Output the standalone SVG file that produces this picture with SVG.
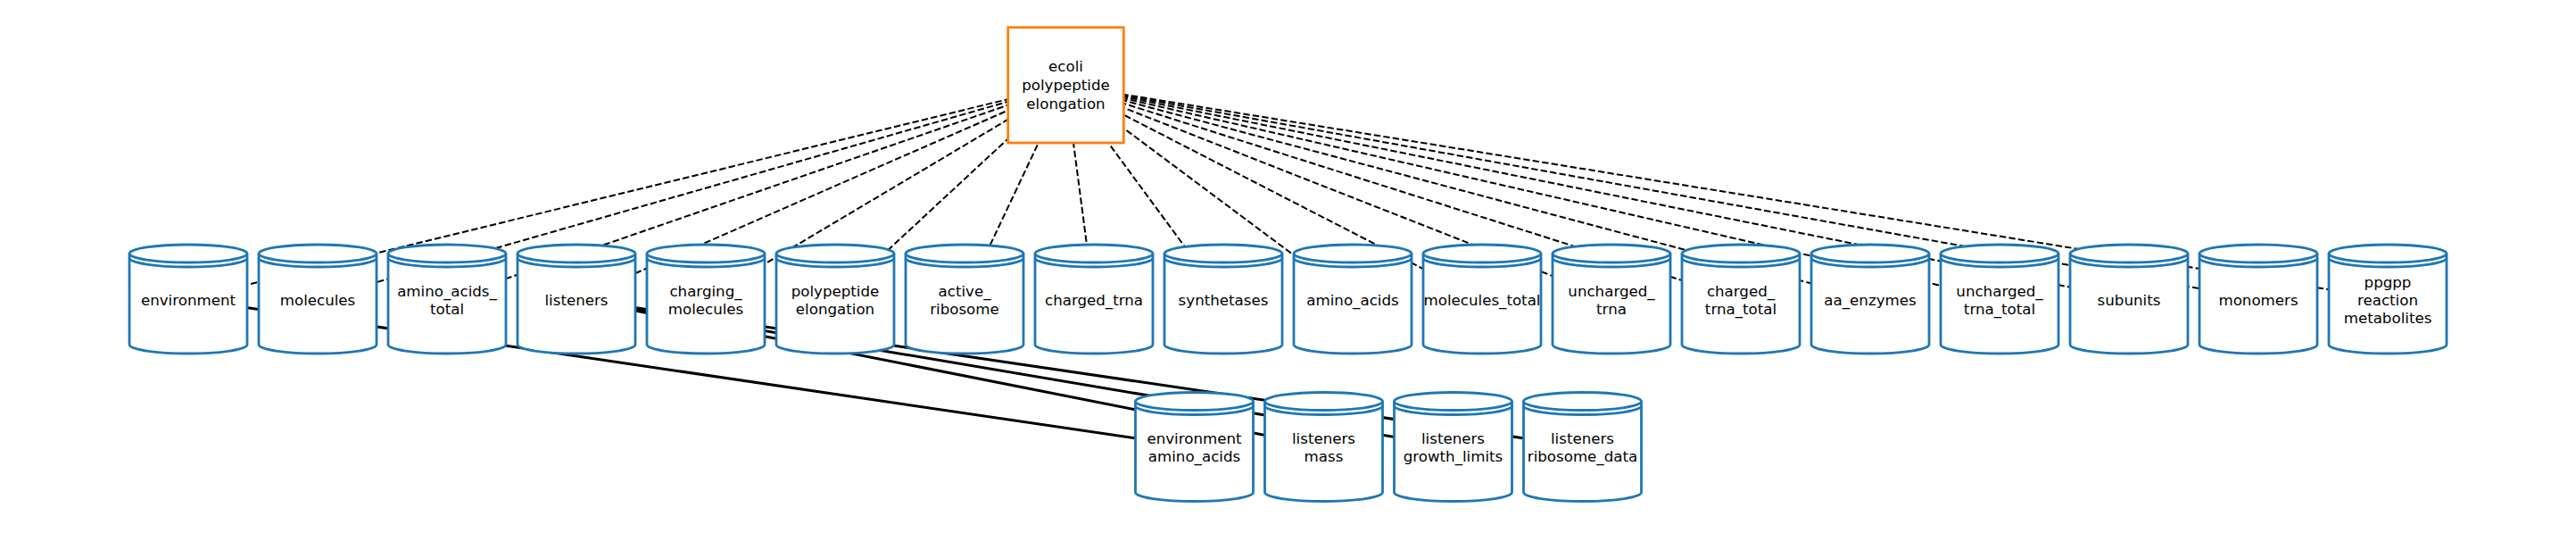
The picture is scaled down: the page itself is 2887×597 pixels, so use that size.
<svg xmlns="http://www.w3.org/2000/svg" xmlns:xlink="http://www.w3.org/1999/xlink" width="2887" height="597" viewBox="0 0 2887 597">
<style>
.port{stroke:#000;stroke-width:2;stroke-dasharray:7.4 3.2;fill:none}
.place{stroke:#000;stroke-width:3;fill:none}
.cyl{fill:#fff;stroke:#1f77b4;stroke-width:2.8;stroke-linejoin:round}
.cylline{fill:none;stroke:#1f77b4;stroke-width:2.8}
.proc{fill:#fff;stroke:#ff7f0e;stroke-width:2.8}
text{font-family:"DejaVu Sans","Liberation Sans",sans-serif;font-size:16.67px;fill:#000;text-anchor:middle}
</style>
<defs>
<g id="cyl">
<path class="cyl" d="M-66,10 A66,10 0 0 1 66,10 L66,112 A66,10 0 0 1 -66,112 Z"/>
<path class="cylline" d="M-66,10 A66,10 0 0 0 66,10"/>
<path class="cylline" d="M-66,15 A66,10 0 0 0 66,15"/>
</g>
</defs>
<rect width="2887" height="597" fill="#fff"/>
<g id="connectors">
<line class="port" x1="1194.5" y1="95.3" x2="211" y2="335"/>
<line class="port" x1="1194.5" y1="95.3" x2="356" y2="335"/>
<line class="port" x1="1194.5" y1="95.3" x2="501" y2="335"/>
<line class="port" x1="1194.5" y1="95.3" x2="646" y2="335"/>
<line class="port" x1="1194.5" y1="95.3" x2="791" y2="335"/>
<line class="port" x1="1194.5" y1="95.3" x2="936" y2="335"/>
<line class="port" x1="1194.5" y1="95.3" x2="1081" y2="335"/>
<line class="port" x1="1194.5" y1="95.3" x2="1226" y2="335"/>
<line class="port" x1="1194.5" y1="95.3" x2="1371" y2="335"/>
<line class="port" x1="1194.5" y1="95.3" x2="1516" y2="335"/>
<line class="port" x1="1194.5" y1="95.3" x2="1661" y2="335"/>
<line class="port" x1="1194.5" y1="95.3" x2="1806" y2="335"/>
<line class="port" x1="1194.5" y1="95.3" x2="1951" y2="335"/>
<line class="port" x1="1194.5" y1="95.3" x2="2096" y2="335"/>
<line class="port" x1="1194.5" y1="95.3" x2="2241" y2="335"/>
<line class="port" x1="1194.5" y1="95.3" x2="2386" y2="335"/>
<line class="port" x1="1194.5" y1="95.3" x2="2531" y2="335"/>
<line class="port" x1="1194.5" y1="95.3" x2="2676" y2="335"/>
<line class="place" x1="211" y1="335" x2="1338.5" y2="500.5"/>
<line class="place" x1="646" y1="335" x2="1483.5" y2="500.5"/>
<line class="place" x1="646" y1="335" x2="1628.5" y2="500.5"/>
<line class="place" x1="646" y1="335" x2="1773.5" y2="500.5"/>
</g>
<g id="ecoli_polypeptide_elongation">
<rect class="proc" x="1129.7" y="30.7" width="129.6" height="129.3"/>
<text x="1194.5" y="79.5">ecoli</text>
<text x="1194.5" y="100.5">polypeptide</text>
<text x="1194.5" y="121.5">elongation</text>
</g>
<g id="environment"><use xlink:href="#cyl" x="211" y="274"/><text x="211" y="341.7">environment</text></g>
<g id="molecules"><use xlink:href="#cyl" x="356" y="274"/><text x="356" y="341.7">molecules</text></g>
<g id="amino_acids_total"><use xlink:href="#cyl" x="501" y="274"/><text x="501" y="331.7">amino_acids_</text><text x="501" y="351.7">total</text></g>
<g id="listeners"><use xlink:href="#cyl" x="646" y="274"/><text x="646" y="341.7">listeners</text></g>
<g id="charging_molecules"><use xlink:href="#cyl" x="791" y="274"/><text x="791" y="331.7">charging_</text><text x="791" y="351.7">molecules</text></g>
<g id="polypeptide_elongation"><use xlink:href="#cyl" x="936" y="274"/><text x="936" y="331.7">polypeptide</text><text x="936" y="351.7">elongation</text></g>
<g id="active_ribosome"><use xlink:href="#cyl" x="1081" y="274"/><text x="1081" y="331.7">active_</text><text x="1081" y="351.7">ribosome</text></g>
<g id="charged_trna"><use xlink:href="#cyl" x="1226" y="274"/><text x="1226" y="341.7">charged_trna</text></g>
<g id="synthetases"><use xlink:href="#cyl" x="1371" y="274"/><text x="1371" y="341.7">synthetases</text></g>
<g id="amino_acids"><use xlink:href="#cyl" x="1516" y="274"/><text x="1516" y="341.7">amino_acids</text></g>
<g id="molecules_total"><use xlink:href="#cyl" x="1661" y="274"/><text x="1661" y="341.7">molecules_total</text></g>
<g id="uncharged_trna"><use xlink:href="#cyl" x="1806" y="274"/><text x="1806" y="331.7">uncharged_</text><text x="1806" y="351.7">trna</text></g>
<g id="charged_trna_total"><use xlink:href="#cyl" x="1951" y="274"/><text x="1951" y="331.7">charged_</text><text x="1951" y="351.7">trna_total</text></g>
<g id="aa_enzymes"><use xlink:href="#cyl" x="2096" y="274"/><text x="2096" y="341.7">aa_enzymes</text></g>
<g id="uncharged_trna_total"><use xlink:href="#cyl" x="2241" y="274"/><text x="2241" y="331.7">uncharged_</text><text x="2241" y="351.7">trna_total</text></g>
<g id="subunits"><use xlink:href="#cyl" x="2386" y="274"/><text x="2386" y="341.7">subunits</text></g>
<g id="monomers"><use xlink:href="#cyl" x="2531" y="274"/><text x="2531" y="341.7">monomers</text></g>
<g id="ppgpp_reaction_metabolites"><use xlink:href="#cyl" x="2676" y="274"/><text x="2676" y="321.7">ppgpp</text><text x="2676" y="341.7">reaction</text><text x="2676" y="361.7">metabolites</text></g>
<g id="environment_amino_acids"><use xlink:href="#cyl" x="1338.5" y="439.5"/><text x="1338.5" y="496.5">environment</text><text x="1338.5" y="516.5">amino_acids</text></g>
<g id="listeners_mass"><use xlink:href="#cyl" x="1483.5" y="439.5"/><text x="1483.5" y="496.5">listeners</text><text x="1483.5" y="516.5">mass</text></g>
<g id="listeners_growth_limits"><use xlink:href="#cyl" x="1628.5" y="439.5"/><text x="1628.5" y="496.5">listeners</text><text x="1628.5" y="516.5">growth_limits</text></g>
<g id="listeners_ribosome_data"><use xlink:href="#cyl" x="1773.5" y="439.5"/><text x="1773.5" y="496.5">listeners</text><text x="1773.5" y="516.5">ribosome_data</text></g>
</svg>
